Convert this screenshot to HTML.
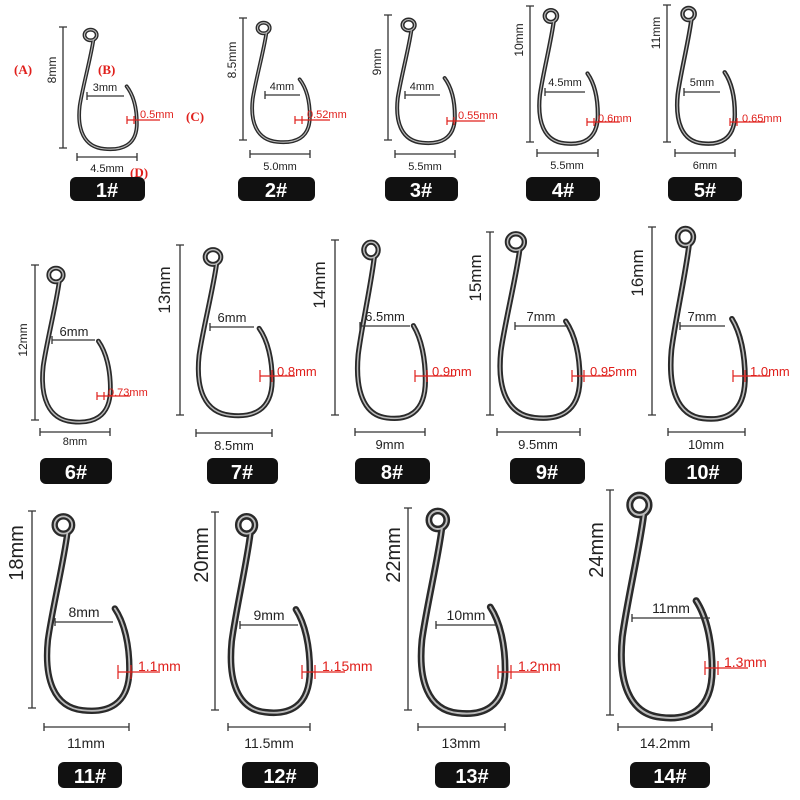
<!DOCTYPE html>
<html><head><meta charset="utf-8"><style>
html,body{margin:0;padding:0;background:#fff;}
svg{display:block;}
text{font-family:"Liberation Sans",sans-serif;fill:#222;}
.r{fill:#e0201c;}
.b{fill:#fff;font-weight:bold;}
.s{font-family:"Liberation Serif",serif;font-weight:bold;fill:#e0201c;font-size:13px;}
</style></head><body>
<svg width="800" height="800" viewBox="0 0 800 800" xmlns="http://www.w3.org/2000/svg">
<defs>
<g id="hk" fill="none">
<ellipse cx="0" cy="0" rx="9" ry="9" vector-effect="non-scaling-stroke"/>
<path d="M 4,9 C 0,40 -12,90 -16,120 C -20,160 -10,190 20,193 C 45,196 68,188 68,150 C 68,125 63,102 53,87" vector-effect="non-scaling-stroke"/>
</g>
</defs>
<g stroke-linecap="round">
<g transform="translate(90.6,35) scale(.68,.59)"><use href="#hk" stroke="#2a2a2a" stroke-width="3.8"/><use href="#hk" stroke="#bbb" stroke-width="1.1"/></g>
<g transform="translate(263.6,28) scale(.68,.59)"><use href="#hk" stroke="#2a2a2a" stroke-width="3.8"/><use href="#hk" stroke="#bbb" stroke-width="1.1"/></g>
<g transform="translate(408.6,25) scale(.68,.61)"><use href="#hk" stroke="#2a2a2a" stroke-width="4"/><use href="#hk" stroke="#bbb" stroke-width="1.1"/></g>
<g transform="translate(550.9,16) scale(.69,.66)"><use href="#hk" stroke="#2a2a2a" stroke-width="4.2"/><use href="#hk" stroke="#bbb" stroke-width="1.2"/></g>
<g transform="translate(688.6,14) scale(.68,.67)"><use href="#hk" stroke="#2a2a2a" stroke-width="4.4"/><use href="#hk" stroke="#bbb" stroke-width="1.2"/></g>
<g transform="translate(56,275) scale(.8,.76)"><use href="#hk" stroke="#2a2a2a" stroke-width="4.8"/><use href="#hk" stroke="#bbb" stroke-width="1.4"/></g>
<g transform="translate(213,257) scale(.87,.82)"><use href="#hk" stroke="#2a2a2a" stroke-width="5"/><use href="#hk" stroke="#bbb" stroke-width="1.4"/></g>
<g transform="translate(371,250) scale(.8,.87)"><use href="#hk" stroke="#2a2a2a" stroke-width="5.2"/><use href="#hk" stroke="#bbb" stroke-width="1.5"/></g>
<g transform="translate(515.9,242) scale(.94,.91)"><use href="#hk" stroke="#2a2a2a" stroke-width="5.4"/><use href="#hk" stroke="#bbb" stroke-width="1.5"/></g>
<g transform="translate(685.5,237) scale(.875,.94)"><use href="#hk" stroke="#2a2a2a" stroke-width="5.6"/><use href="#hk" stroke="#bbb" stroke-width="1.6"/></g>
<g transform="translate(63.4,525) scale(.97,.96)"><use href="#hk" stroke="#2a2a2a" stroke-width="6.4"/><use href="#hk" stroke="#bbb" stroke-width="1.8"/></g>
<g transform="translate(246.6,525) scale(.93,.97)"><use href="#hk" stroke="#2a2a2a" stroke-width="6.6"/><use href="#hk" stroke="#bbb" stroke-width="1.8"/></g>
<g transform="translate(437.8,520) scale(.99,1)"><use href="#hk" stroke="#2a2a2a" stroke-width="6.8"/><use href="#hk" stroke="#bbb" stroke-width="1.9"/></g>
<g transform="translate(639.4,505) scale(1.07,1.1)"><use href="#hk" stroke="#2a2a2a" stroke-width="7"/><use href="#hk" stroke="#bbb" stroke-width="2"/></g>
</g>

<g stroke="#333" stroke-width="1.3" fill="none">
<path d="M63 27V148M59 27H67M59 148H67 M77 157H137M77 153V161M137 153V161 M87 96H124M87 92V100"/>
<path d="M243 18V140M239 18H247M239 140H247 M250 154H310M250 150V158M310 150V158 M265 95H300M265 91V99"/>
<path d="M388 15V140M384 15H392M384 140H392 M395 154H455M395 150V158M455 150V158 M405 95H440M405 91V99"/>
<path d="M530 6V142M526 6H534M526 142H534 M537 153H598M537 149V157M598 149V157 M545 92H585M545 88V96"/>
<path d="M667 5V142M663 5H671M663 142H671 M675 153H735M675 149V157M735 149V157 M684 92H720M684 88V96"/>
<path d="M35 265V420M31 265H39M31 420H39 M40 432H110M40 428V436 M110 428V436 M52 340H95M52 336V344"/>
<path d="M180 245V415M176 245H184M176 415H184 M196 433H272M196 429V437M272 429V437 M210 327H254M210 323V331"/>
<path d="M335 240V415M331 240H339M331 415H339 M355 432H425M355 428V436M425 428V436 M360 326H410M360 322V330"/>
<path d="M490 232V415M486 232H494M486 415H494 M497 432H580M497 428V436M580 428V436 M515 326H568M515 322V330"/>
<path d="M652 227V415M648 227H656M648 415H656 M668 432H745M668 428V436M745 428V436 M680 326H725M680 322V330"/>
<path d="M32 511V708M28 511H36M28 708H36 M44 727H129M44 723V731M129 723V731 M55 622H113M55 618V626"/>
<path d="M215 512V710M211 512H219M211 710H219 M228 727H310M228 723V731M310 723V731 M240 625H298M240 621V629"/>
<path d="M408 508V710M404 508H412M404 710H412 M418 727H505M418 723V731M505 723V731 M436 625H497M436 621V629"/>
<path d="M610 490V715M606 490H614M606 715H614 M618 727H712M618 723V731M712 723V731 M632 618H710M632 614V622"/>
</g>
<g stroke="#e0201c" stroke-width="1.2">
<path d="M127 120H160M127 116V124M134 116V124"/>
<path d="M295 120H330M295 116V124M302 116V124"/>
<path d="M447 121H485M447 117V125M454 117V125"/>
<path d="M587 122H620M587 118V126M594 118V126"/>
<path d="M730 122H765M730 118V126M737 118V126"/>
<path d="M97 396H130M97 392V400M104 392V400"/>
<path d="M260 376H295M260 370V382M272 370V382"/>
<path d="M415 376H455M415 370V382M427 370V382"/>
<path d="M572 376H612M572 370V382M584 370V382"/>
<path d="M733 376H770M733 370V382M745 370V382"/>
<path d="M118 672H160M118 665V679M131 665V679"/>
<path d="M302 672H345M302 665V679M315 665V679"/>
<path d="M498 672H540M498 665V679M511 665V679"/>
<path d="M705 668H748M705 661V675M718 661V675"/>
</g>

<g font-size="11" text-anchor="middle">
<text x="105" y="91">3mm</text><text x="282" y="90">4mm</text><text x="422" y="90">4mm</text><text x="565" y="86">4.5mm</text><text x="702" y="86">5mm</text>
<text x="107" y="172">4.5mm</text><text x="280" y="170">5.0mm</text><text x="425" y="170">5.5mm</text><text x="567" y="169">5.5mm</text><text x="705" y="169">6mm</text>
</g>
<g font-size="11">
<text class="r" x="140" y="118">0.5mm</text><text class="r" x="307" y="118">0.52mm</text><text class="r" x="458" y="119">0.55mm</text><text class="r" x="598" y="122">0.6mm</text><text class="r" x="742" y="122">0.65mm</text>
<text class="r" x="108" y="396">0.73mm</text>
</g>
<g font-size="13" text-anchor="middle">
<text x="74" y="336">6mm</text><text x="232" y="322">6mm</text><text x="385" y="321">6.5mm</text><text x="541" y="321">7mm</text><text x="702" y="321">7mm</text>
<text x="75" y="445" font-size="11">8mm</text><text x="234" y="450">8.5mm</text><text x="390" y="449">9mm</text><text x="538" y="449">9.5mm</text><text x="706" y="449">10mm</text>
</g>
<g font-size="13">
<text class="r" x="277" y="376">0.8mm</text><text class="r" x="432" y="376">0.9mm</text><text class="r" x="590" y="376">0.95mm</text><text class="r" x="750" y="376">1.0mm</text>
</g>
<g font-size="14" text-anchor="middle">
<text x="84" y="617">8mm</text><text x="269" y="620">9mm</text><text x="466" y="620">10mm</text><text x="671" y="613">11mm</text>
<text x="86" y="748">11mm</text><text x="269" y="748">11.5mm</text><text x="461" y="748">13mm</text><text x="665" y="748">14.2mm</text>
</g>
<g font-size="14">
<text class="r" x="138" y="671">1.1mm</text><text class="r" x="322" y="671">1.15mm</text><text class="r" x="518" y="671">1.2mm</text><text class="r" x="724" y="667">1.3mm</text>
</g>

<g text-anchor="middle">
<text font-size="12" transform="translate(56,70) rotate(-90)">8mm</text>
<text font-size="12" transform="translate(236,60) rotate(-90)">8.5mm</text>
<text font-size="12" transform="translate(381,62) rotate(-90)">9mm</text>
<text font-size="12" transform="translate(523,40) rotate(-90)">10mm</text>
<text font-size="12" transform="translate(660,33) rotate(-90)">11mm</text>
<text font-size="12" transform="translate(27,340) rotate(-90)">12mm</text>
<text font-size="17" transform="translate(170,290) rotate(-90)">13mm</text>
<text font-size="17" transform="translate(325,285) rotate(-90)">14mm</text>
<text font-size="17" transform="translate(481,278) rotate(-90)">15mm</text>
<text font-size="17" transform="translate(643,273) rotate(-90)">16mm</text>
<text font-size="20" transform="translate(23,553) rotate(-90)">18mm</text>
<text font-size="20" transform="translate(208,555) rotate(-90)">20mm</text>
<text font-size="20" transform="translate(400,555) rotate(-90)">22mm</text>
<text font-size="20" transform="translate(603,550) rotate(-90)">24mm</text>
</g>

<text class="s" x="14" y="74">(A)</text>
<text class="s" x="98" y="74">(B)</text>
<text class="s" x="186" y="121">(C)</text>
<text class="s" x="130" y="177">(D)</text>

<g fill="#111">
<rect x="70" y="177" width="75" height="24" rx="6"/>
<rect x="238" y="177" width="77" height="24" rx="6"/>
<rect x="385" y="177" width="73" height="24" rx="6"/>
<rect x="526" y="177" width="74" height="24" rx="6"/>
<rect x="668" y="177" width="74" height="24" rx="6"/>
<rect x="40" y="458" width="72" height="26" rx="6"/>
<rect x="207" y="458" width="71" height="26" rx="6"/>
<rect x="355" y="458" width="75" height="26" rx="6"/>
<rect x="510" y="458" width="75" height="26" rx="6"/>
<rect x="665" y="458" width="77" height="26" rx="6"/>
<rect x="58" y="762" width="64" height="26" rx="6"/>
<rect x="242" y="762" width="76" height="26" rx="6"/>
<rect x="435" y="762" width="75" height="26" rx="6"/>
<rect x="630" y="762" width="80" height="26" rx="6"/>
</g>
<g text-anchor="middle" font-size="20">
<text class="b" x="107" y="197">1#</text>
<text class="b" x="276" y="197">2#</text>
<text class="b" x="421" y="197">3#</text>
<text class="b" x="563" y="197">4#</text>
<text class="b" x="705" y="197">5#</text>
<text class="b" x="76" y="479">6#</text>
<text class="b" x="242" y="479">7#</text>
<text class="b" x="392" y="479">8#</text>
<text class="b" x="547" y="479">9#</text>
<text class="b" x="703" y="479">10#</text>
<text class="b" x="90" y="783">11#</text>
<text class="b" x="280" y="783">12#</text>
<text class="b" x="472" y="783">13#</text>
<text class="b" x="670" y="783">14#</text>
</g>
</svg>
</body></html>
